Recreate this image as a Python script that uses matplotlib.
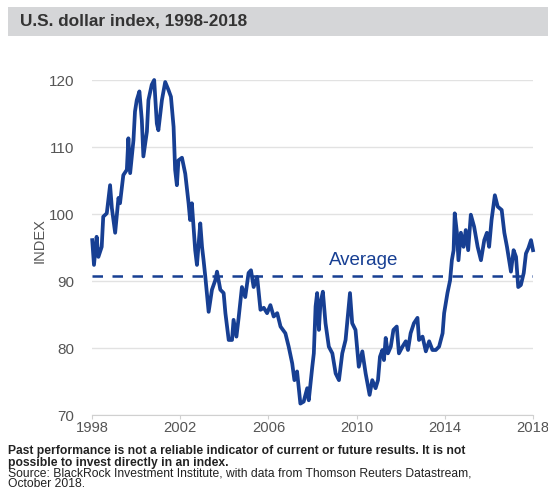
import matplotlib
matplotlib.use("Agg")
import matplotlib.pyplot as plt
from matplotlib.patches import Rectangle

years = [1998.01, 1998.09, 1998.21, 1998.29, 1998.44, 1998.51, 1998.67, 1998.82, 1998.90, 1999.05,
         1999.20, 1999.27, 1999.42, 1999.58, 1999.65, 1999.73, 1999.88, 1999.95, 2000.03, 2000.15,
         2000.26, 2000.33, 2000.49, 2000.56, 2000.71, 2000.82, 2000.94, 2001.01, 2001.17, 2001.32,
         2001.47, 2001.58, 2001.70, 2001.77, 2001.85, 2001.92, 2002.08, 2002.23, 2002.38, 2002.45,
         2002.53, 2002.68, 2002.76, 2002.91, 2002.99, 2003.06, 2003.14, 2003.29, 2003.44, 2003.59,
         2003.67, 2003.82, 2003.97, 2004.05, 2004.20, 2004.35, 2004.42, 2004.55, 2004.65, 2004.80,
         2004.95, 2005.10, 2005.21, 2005.33, 2005.49, 2005.64, 2005.79, 2005.94, 2006.09, 2006.24,
         2006.40, 2006.55, 2006.77, 2006.92, 2007.08, 2007.18, 2007.30, 2007.45, 2007.60, 2007.76,
         2007.83, 2007.99, 2008.06, 2008.14, 2008.21, 2008.29, 2008.36, 2008.47, 2008.59, 2008.74,
         2008.90, 2009.05, 2009.20, 2009.35, 2009.50, 2009.60, 2009.70, 2009.80, 2009.95, 2010.10,
         2010.26, 2010.41, 2010.59, 2010.71, 2010.86, 2010.97, 2011.06, 2011.17, 2011.24, 2011.32,
         2011.42, 2011.55, 2011.67, 2011.82, 2011.92, 2012.08, 2012.23, 2012.33, 2012.45, 2012.60,
         2012.76, 2012.83, 2012.99, 2013.14, 2013.29, 2013.44, 2013.59, 2013.74, 2013.90, 2013.97,
         2014.12, 2014.24, 2014.32, 2014.40, 2014.45, 2014.55, 2014.62, 2014.73, 2014.85, 2014.95,
         2015.06, 2015.18, 2015.33, 2015.49, 2015.64, 2015.79, 2015.91, 2016.01, 2016.12, 2016.27,
         2016.40, 2016.58, 2016.70, 2016.82, 2016.92, 2017.00, 2017.12, 2017.23, 2017.33, 2017.45,
         2017.58, 2017.68, 2017.79, 2017.91, 2018.00]
index_values = [96.1, 92.4, 96.6, 93.6, 95.1, 99.6, 100.1, 104.3, 100.9, 97.2,
                102.4, 101.6, 105.8, 106.6, 111.3, 106.1, 111.0, 115.3, 117.0, 118.3,
                114.0, 108.6, 112.3, 117.0, 119.3, 120.0, 113.5, 112.5, 117.0, 119.7,
                118.5, 117.5, 113.0, 106.6, 104.3, 108.0, 108.4, 106.0, 101.6, 99.1,
                101.6, 94.6, 92.4, 98.6, 95.1, 93.1, 90.6, 85.4, 88.7, 90.1,
                91.4, 88.7, 88.2, 85.2, 81.2, 81.2, 84.2, 81.7, 84.5, 89.1,
                87.6, 91.2, 91.6, 89.1, 90.6, 85.7, 86.0, 85.2, 86.4, 84.7,
                85.2, 83.2, 82.2, 80.2, 77.7, 75.2, 76.5, 71.7, 72.0, 74.0,
                72.2, 77.2, 79.2, 86.2, 88.2, 82.7, 86.7, 88.4, 83.7, 80.2,
                79.2, 76.2, 75.2, 79.2, 81.2, 84.7, 88.2, 83.7, 82.7, 77.2,
                79.5, 76.2, 73.0, 75.2, 74.0, 75.2, 78.7, 79.7, 78.2, 81.5,
                79.2, 80.2, 82.7, 83.2, 79.2, 80.2, 81.0, 79.7, 82.2, 83.7,
                84.5, 81.2, 81.7, 79.5, 81.0, 79.7, 79.7, 80.2, 82.2, 85.2,
                88.2, 90.1, 93.1, 94.6, 100.1, 97.2, 93.1, 97.2, 95.1, 97.6,
                94.6, 99.9, 98.1, 95.1, 93.1, 96.1, 97.2, 95.1, 99.1, 102.8,
                101.1, 100.6, 97.2, 95.1, 93.1, 91.4, 94.6, 93.6, 89.1, 89.4,
                91.2, 94.1, 94.9, 96.1, 94.6]
average_value = 90.75
y_ticks = [70, 80, 90, 100, 110, 120]
x_ticks = [1998, 2002, 2006, 2010, 2014, 2018]

title = "U.S. dollar index, 1998-2018"
footer_bold = ("Past performance is not a reliable indicator of current or future results. It is not\n"
               "possible to invest directly in an index.")
footer_src = ("Source: BlackRock Investment Institute, with data from Thomson Reuters Datastream,\n"
              "October 2018.")

BLUE = "#173f93"
GREY_TXT = "#555555"

plt.rcParams['font.family'] = ['Liberation Sans', 'DejaVu Sans']

fig = plt.figure(figsize=(5.48, 4.9), dpi=100)
fig.patch.set_facecolor("white")

# title band
fig.patches.append(Rectangle((8/548, 1-36/490), 540/548, 29/490, transform=fig.transFigure,
                             facecolor="#d5d6d8", edgecolor="none", zorder=0))
fig.text(20/548, 1-21.5/490, title, fontsize=12.4, fontweight="bold", color="#333333",
         va="center", ha="left")

ax = fig.add_axes([92/548, 1-415/490, (533-92)/548, (415-80)/490])
ax.plot(years, index_values, color=BLUE, lw=2.7, clip_on=False, zorder=3, solid_joinstyle="round")
ax.axhline(average_value, color=BLUE, lw=1.8, dashes=(4.2, 3.8), zorder=2)
ax.text(2010.3, 93.1, "Average", color=BLUE, fontsize=13.5, ha="center", va="center")

ax.set_xlim(1998, 2018)
ax.set_ylim(70, 120)
ax.set_yticks(y_ticks)
ax.set_xticks(x_ticks)
ax.set_xticklabels([str(t) for t in x_ticks])
ax.grid(axis="y", color="#e2e2e2", lw=1)
ax.set_axisbelow(True)
for s in ["top", "right", "left"]:
    ax.spines[s].set_visible(False)
ax.spines["bottom"].set_color("#d0d0d0")
ax.tick_params(axis="y", length=0, pad=13, labelsize=11, labelcolor=GREY_TXT)
ax.tick_params(axis="x", length=3, color="#d0d0d0", pad=1, labelsize=10.6, labelcolor=GREY_TXT)
ax.set_ylabel("INDEX", fontsize=10.5, color=GREY_TXT)
ax.yaxis.set_label_coords(-45/441, 0.52)

fig.text(8/548, 1-445/490, footer_bold, fontsize=8.7, fontweight="bold", color="#222222",
         va="top", ha="left", linespacing=0.95)
fig.text(8/548, 1-467/490, footer_src, fontsize=8.7, color="#222222",
         va="top", ha="left", linespacing=0.92)

fig.savefig("out.png", dpi=100)
